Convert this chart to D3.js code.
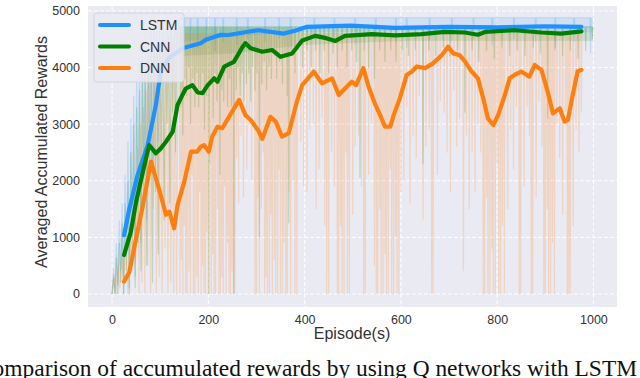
<!DOCTYPE html>
<html>
<head>
<meta charset="utf-8">
<script src="https://cdn.jsdelivr.net/npm/d3@7"></script>
<style>
  body { margin: 0; background: #fff; }
</style>
</head>
<body>
<div class="chart"></div>
<script>
const W = 640, H = 378;
const plot = ({left: 88, right: 617, top: 6, bottom: 307});
const sans = "'Liberation Sans', Arial, sans-serif";

const seriesNames = ["LSTM", "CNN", "DNN"];
const colors = ["#1e90ff", "#008000", "#ff7f0e"];
const xTicks = [0, 200, 400, 600, 800, 1000];
const yTicks = [0, 1000, 2000, 3000, 4000, 5000];

// moving averages [episode, reward]
const lstmAvg = [[25,1040],[36,1510],[53,2100],[74,2630],[91,3340],[101,3930],[118,4170],[146,4340],[184,4430],[195,4490],[226,4580],[242,4576],[294,4650],[305,4660],[356,4600],[380,4650],[405,4720],[495,4740],[588,4700],[700,4720],[800,4710],[900,4730],[975,4720]];
const cnnAvg = [[25,690],[39,1100],[50,1630],[64,2160],[77,2630],[84,2560],[91,2485],[100,2560],[112,2690],[126,2870],[136,3340],[153,3630],[167,3690],[178,3560],[188,3550],[198,3680],[212,3810],[219,3750],[233,4015],[253,4100],[270,4350],[277,4430],[288,4340],[312,4280],[333,4310],[350,4190],[374,4250],[395,4480],[422,4560],[445,4520],[464,4470],[484,4560],[540,4590],[588,4570],[643,4590],[691,4630],[733,4620],[760,4580],[775,4630],[836,4660],[892,4620],[933,4600],[975,4640]];
const dnnAvg = [[25,220],[36,390],[50,985],[64,1570],[81,2340],[91,2045],[101,1750],[112,1400],[119,1455],[129,1160],[136,1570],[150,1985],[164,2515],[177,2515],[184,2600],[191,2630],[201,2515],[208,2780],[219,2955],[229,2930],[243,3130],[264,3430],[277,3160],[288,3075],[305,2870],[312,2740],[329,3130],[340,3045],[353,2780],[367,2840],[384,3400],[395,3690],[419,3930],[436,3720],[457,3810],[471,3515],[484,3630],[498,3750],[507,3690],[522,3990],[533,3660],[547,3340],[557,3160],[567,2955],[578,2955],[585,3160],[598,3460],[612,3870],[623,3930],[633,4020],[650,3990],[667,4075],[685,4220],[698,4370],[709,4250],[722,4220],[733,4110],[747,3930],[760,3810],[771,3460],[781,3100],[792,2985],[802,3160],[816,3515],[826,3810],[836,3870],[850,3930],[867,3840],[878,4045],[892,3960],[905,3575],[916,3190],[930,3280],[940,3045],[947,3075],[957,3515],[967,3930],[975,3960]];

// raw rewards: first episodes [episode, reward]
const lstmEarly = [[0,0],[3,450],[6,0],[9,900],[12,150],[15,1300],[18,400],[21,1600],[24,0],[27,2100],[30,700],[33,2700],[36,100],[39,3100],[42,1000],[45,3500],[48,300],[51,3900],[54,1600],[57,4200],[60,900],[63,4450],[66,2100],[69,4600],[72,1300],[75,4700],[78,2900],[81,4800],[84,2100],[87,4800],[90,3400],[93,4850],[96,2700],[99,4850],[102,3700],[106,4880],[110,3900],[114,4900],[118,4200],[122,4880],[126,3800],[130,4900],[134,4300],[139,4850]];
const cnnEarly = [[0,0],[3,300],[6,0],[9,650],[12,0],[15,900],[18,200],[21,1250],[24,0],[27,1600],[30,400],[33,2000],[36,0],[39,2500],[42,600],[45,3000],[48,100],[51,3300],[54,900],[57,3600],[60,400],[63,3900],[66,1500],[69,4100],[72,500],[75,4200],[78,2000],[81,4300],[84,200],[87,4350],[90,1800],[93,4400],[96,700],[99,4450],[102,2500],[105,4500],[108,1300],[111,4500],[114,3000],[117,4550],[120,1600],[123,4600],[126,3200],[129,4600],[132,2500],[135,4650],[139,4700]];
const dnnEarly = [[0,0],[4,350],[8,0],[12,500],[16,100],[20,700],[24,200],[28,900],[33,0],[37,1200],[41,400],[45,1700],[49,600],[53,2600],[56,0],[59,3000],[62,200],[65,3300],[68,0],[71,3600],[74,500],[77,3900],[80,0],[83,4100],[86,1500],[89,4200],[92,0],[95,4300],[98,300],[101,4200],[104,0],[107,4300],[110,800],[113,4350],[116,0],[119,4300],[122,200],[125,4400],[128,0],[131,4400],[134,0],[137,4450],[139,4600]];

// raw rewards later on: usual level and the episodes where it dropped [episode, reward]
const rawTop = [4880, 4720, 4600];
const lstmBand = [[139,4450,4880],[200,4500,4880],[300,4580,4880],[400,4620,4880],[600,4640,4880],[800,4640,4880],[999,4620,4880]];
const cnnBand = [[139,4200,4720],[250,4250,4720],[400,4400,4720],[600,4470,4720],[999,4470,4720]];
const lstmDips = [[150,4300],[163,4400],[178,4350],[196,4450],[214,4300],[231,4450],[259,4400],[282,4500],[318,4450],[347,4500],[371,4300],[420,4500],[462,4450],[505,4400],[548,4500],[590,4450],[612,4350],[660,4500],[706,4450],[751,4500],[790,4400],[835,4500],[880,4450],[921,4350],[960,4450],[994,4250]];
const cnnDips = [[143,3300],[147,2800],[151,3800],[155,3500],[159,4000],[163,3000],[168,3800],[172,3300],[176,3900],[180,3300],[184,3600],[188,3900],[192,2900],[196,3500],[201,0],[206,3700],[210,3100],[214,3900],[218,3400],[224,2100],[228,3600],[232,3400],[236,3900],[240,3300],[244,3800],[248,3300],[253,0],[258,3600],[262,4000],[266,3500],[270,3900],[274,3400],[279,3700],[284,3900],[288,3400],[292,4000],[297,3600],[301,3900],[306,1000],[311,3700],[316,4100],[321,3600],[326,4000],[331,3800],[337,4200],[342,3800],[348,4100],[354,3700],[359,4200],[364,3500],[367,1250],[373,4200],[380,3900],[388,4300],[396,4000],[405,4300],[414,4000],[423,4300],[432,3900],[441,4300],[450,3900],[459,4250],[468,4000],[478,4300],[488,4000],[498,4300],[508,4100],[515,2050],[524,4300],[533,4000],[545,3800],[556,4300],[567,4100],[579,4300],[590,4100],[603,4300],[616,4200],[630,4300],[646,2300],[658,4300],[672,4200],[688,4350],[702,4200],[718,4300],[733,3200],[748,4300],[762,4100],[778,4300],[794,4150],[810,4350],[826,4200],[842,4300],[858,4200],[875,4350],[890,4250],[905,3100],[920,4300],[936,4200],[952,4300],[968,4150],[984,4300],[998,4500]];
const dnnDips = [[141,0],[144,600],[147,0],[150,1200],[153,0],[156,0],[160,400],[163,0],[166,2100],[169,0],[172,0],[176,300],[179,0],[182,1800],[185,0],[188,500],[191,0],[194,0],[197,1100],[200,0],[203,2300],[206,0],[209,700],[212,0],[215,0],[219,1500],[222,0],[225,0],[228,300],[231,0],[234,1900],[237,0],[240,900],[243,0],[246,0],[249,400],[252,0],[255,0],[259,2400],[263,1600],[268,2800],[273,1700],[280,2200],[285,3000],[290,2000],[297,0],[300,0],[303,1700],[306,0],[310,1500],[314,2500],[317,0],[320,300],[323,0],[327,0],[330,1400],[333,0],[337,600],[340,0],[344,0],[347,2200],[350,0],[354,0],[357,900],[361,0],[364,0],[368,1800],[371,0],[376,2000],[380,0],[384,0],[392,2700],[398,1900],[405,1800],[411,2900],[418,3000],[424,1500],[430,2200],[436,3100],[442,1200],[446,0],[450,0],[456,2500],[462,1900],[468,0],[471,0],[475,1200],[478,0],[482,0],[486,2500],[489,0],[493,0],[500,1400],[505,2600],[512,2800],[518,1900],[523,0],[526,0],[533,2100],[539,3000],[545,500],[549,0],[552,0],[556,1500],[559,0],[563,0],[567,700],[570,0],[574,0],[578,2200],[581,0],[585,0],[589,1000],[592,0],[596,0],[600,1800],[606,2000],[612,3300],[619,1600],[625,2800],[632,2400],[638,3500],[646,1300],[652,2600],[659,2900],[664,0],[667,0],[676,2100],[682,3400],[690,3200],[696,2500],[703,1800],[710,3600],[716,2600],[722,3100],[730,400],[736,2800],[742,1500],[748,2500],[754,1800],[760,3000],[766,2500],[771,0],[774,0],[778,1700],[781,0],[785,0],[789,800],[792,0],[796,0],[800,2300],[803,0],[807,0],[811,1200],[815,0],[822,1500],[828,2900],[834,2200],[840,3300],[846,0],[849,0],[856,1900],[862,3300],[867,2800],[871,0],[874,0],[881,1700],[887,3400],[893,2600],[897,0],[900,0],[904,1500],[907,0],[911,0],[915,900],[919,0],[924,3000],[930,2400],[936,1400],[942,3200],[946,0],[949,0],[952,0],[958,1200],[964,2900],[970,2500],[975,3200]];

const svg = d3.select('.chart').append('svg')
    .attr("width", W)
    .attr("height", H)

const xScale = d3.scaleLinear().domain([-50, 1049]).range([plot.left, plot.right])
const yScale = d3.scaleLinear().domain([-230, 5088]).range([plot.bottom, plot.top])

svg.append("rect")
    .attr("x", plot.left).attr("y", plot.top)
    .attr("width", plot.right - plot.left).attr("height", plot.bottom - plot.top)
    .attr("fill", "#eaeaf2")

// grid
svg.append("g").selectAll("line").data(xTicks).enter().append("line")
    .attr("x1", d => xScale(d)).attr("x2", d => xScale(d))
    .attr("y1", plot.top).attr("y2", plot.bottom)
    .attr("stroke", "#fff").attr("stroke-width", 1).attr("stroke-dasharray", "4,2")
svg.append("g").selectAll("line").data(yTicks).enter().append("line")
    .attr("y1", d => yScale(d)).attr("y2", d => yScale(d))
    .attr("x1", plot.left).attr("x2", plot.right)
    .attr("stroke", "#fff").attr("stroke-width", 1).attr("stroke-dasharray", "4,2")

const line = d3.line().x(d => xScale(d[0])).y(d => yScale(d[1]))
const band = d3.area().x(d => xScale(d[0])).y0(d => yScale(d[1])).y1(d => yScale(d[2]))

// raw rewards, faint
const bands = [lstmBand, cnnBand, null]
const early = [lstmEarly, cnnEarly, dnnEarly]
const dips = [lstmDips, cnnDips, dnnDips]
early.forEach((e, i) => {
    if (bands[i]) {
        svg.append("path")
            .attr("d", band(bands[i]))
            .attr("fill", colors[i])
            .attr("fill-opacity", 0.12)
    }
    const pts = e.slice()
    dips[i].forEach(([ep, v]) => pts.push([ep - 1, rawTop[i]], [ep, v], [ep + 1, rawTop[i]]))
    svg.append("path")
        .attr("d", line(pts))
        .attr("fill", "none")
        .attr("stroke", colors[i])
        .attr("stroke-opacity", 0.2)
        .attr("stroke-width", 1.2)
})

// averaged rewards
const avg = [lstmAvg, cnnAvg, dnnAvg]
avg.forEach((a, i) => {
    svg.append("path")
        .attr("d", line(a))
        .attr("fill", "none")
        .attr("stroke", colors[i])
        .attr("stroke-width", 4.2)
        .attr("stroke-linejoin", "round")
        .attr("stroke-linecap", "round")
})

// axes
const xAxis = d3.axisBottom(xScale).tickValues(xTicks).tickSize(0).tickPadding(8).tickFormat(d3.format("d"))
const yAxis = d3.axisLeft(yScale).tickValues(yTicks).tickSize(0).tickPadding(8).tickFormat(d3.format("d"))

svg.append("g")
    .attr("transform", `translate(0, ${plot.bottom})`)
    .call(xAxis)
    .attr("font-family", sans)
    .call(g => g.select(".domain").remove())
    .selectAll("text").style("font-size", "12.5px").attr("fill", "#333")

svg.append("g")
    .attr("transform", `translate(${plot.left}, 0)`)
    .call(yAxis)
    .attr("font-family", sans)
    .call(g => g.select(".domain").remove())
    .selectAll("text").style("font-size", "12.5px").attr("fill", "#333")

svg.append("text")
    .attr("x", 352).attr("y", 339)
    .attr("text-anchor", "middle")
    .attr("font-family", sans).attr("fill", "#333")
    .style("font-size", "16px")
    .text("Episode(s)")

svg.append("text")
    .attr("transform", "translate(47, 152) rotate(-90)")
    .attr("text-anchor", "middle")
    .attr("font-family", sans).attr("fill", "#333")
    .style("font-size", "16px")
    .text("Averaged Accumulated Rewards")

// legend
const legend = svg.append("g")
legend.append("rect")
    .attr("x", 94).attr("y", 13).attr("width", 90).attr("height", 69).attr("rx", 3)
    .attr("fill", "#eaeaf2").attr("fill-opacity", 0.85)
    .attr("stroke", "#d4d4dc").attr("stroke-width", 1)
seriesNames.forEach((n, i) => {
    const yy = 25 + i * 21.5
    legend.append("line")
        .attr("x1", 100).attr("x2", 129).attr("y1", yy).attr("y2", yy)
        .attr("stroke", colors[i]).attr("stroke-width", 4).attr("stroke-linecap", "round")
    legend.append("text")
        .attr("x", 140).attr("y", yy + 5)
        .attr("font-family", sans).attr("fill", "#333")
        .style("font-size", "14px")
        .text(n)
})

// figure caption
svg.append("text")
    .attr("x", -23).attr("y", 376)
    .attr("textLength", 660)
    .attr("lengthAdjust", "spacingAndGlyphs")
    .attr("font-family", "'Liberation Serif', serif")
    .style("font-size", "24px")
    .attr("fill", "#111")
    .text("Comparison of accumulated rewards by using Q networks with LSTM")
</script>
</body>
</html>
